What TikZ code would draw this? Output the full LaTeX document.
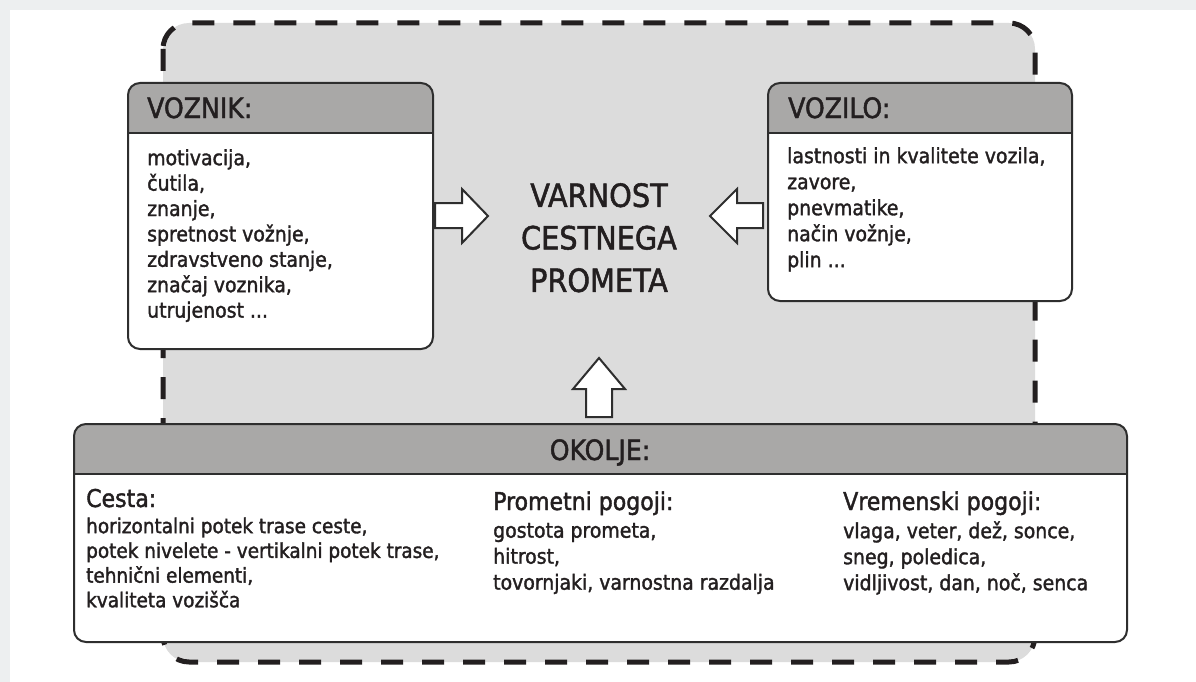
\documentclass[tikz,border=0pt]{standalone}
\usepackage{fontspec}
\setmainfont{DejaVu Sans Condensed}[FakeBold=1.6]
\definecolor{bggray}{HTML}{DCDCDC}
\definecolor{hdr}{HTML}{A9A8A7}
\definecolor{ln}{HTML}{2E2E2E}
\definecolor{txt}{HTML}{231F20}
\definecolor{strip}{HTML}{EDEFF0}
\newcommand{\fl}{\rule{0pt}{20pt}}
\begin{document}
\begin{tikzpicture}[x=1pt,y=-1pt,
  frame/.style={draw=txt, fill=bggray, line width=5pt, rounded corners=26pt, dash pattern=on 22pt off 19pt},
  infobox/.style={draw=ln, line width=2pt, fill=white, rounded corners=12pt, inner sep=0pt, anchor=north west,
    path picture={\fill[hdr, sharp corners] (path picture bounding box.north west) rectangle ([yshift=-50pt]path picture bounding box.north east);
      \draw[ln, line width=2pt, sharp corners] ([yshift=-50pt]path picture bounding box.north west) -- ([yshift=-50pt]path picture bounding box.north east);}},
  hdtext/.style={inner sep=0pt, text=txt, font=\fontsize{28}{32}\selectfont},
  subtext/.style={inner sep=0pt, anchor=base west, text=txt, font=\fontsize{24.5}{30}\selectfont},
  bodytext/.style={inner sep=0pt, anchor=north west, align=left, text=txt},
  blockarrow/.style={draw=ln, line width=2pt, fill=white, line join=miter}
]
\useasboundingbox (0,0) rectangle (1196,682);
\fill[white] (0,0) rectangle (1196,682);
\fill[strip] (0,0) rectangle (1196,10);
\fill[strip] (0,0) rectangle (10,682);

% dashed frame
\draw[frame] (163,23) rectangle (1035,662);

% boxes
\node[infobox, minimum width=305pt, minimum height=266pt] (voznik) at (127,82) {};
\node[infobox, minimum width=304pt, minimum height=218pt] (vozilo) at (767,82) {};
\node[infobox, minimum width=1053pt, minimum height=218pt] (okolje) at (73,423) {};

% headers
\node[hdtext, anchor=base west] (voznikH) at (147,118) {VOZNIK:};
\node[hdtext, anchor=base west] (voziloH) at (788,118) {VOZILO:};
\node[hdtext, anchor=base] (okoljeH) at (600,460) {OKOLJE:};

% body texts
\node[bodytext, font=\fontsize{21}{25.4}\selectfont] (voznikT) at (147,145) {\fl motivacija,\\ čutila,\\ znanje,\\ spretnost vožnje,\\ zdravstveno stanje,\\ značaj voznika,\\ utrujenost ...};
\node[bodytext, font=\fontsize{21}{26}\selectfont] (voziloT) at (787,143) {\fl lastnosti in kvalitete vozila,\\ zavore,\\ pnevmatike,\\ način vožnje,\\ plin ...};

% center
\node[inner sep=0pt, anchor=north, align=center, text=txt, font=\fontsize{32}{42.5}\selectfont] (varnost) at (599,176.7) {\rule{0pt}{30pt}VARNOST\\ CESTNEGA\\ PROMETA};

% block arrows
\draw[blockarrow] (435,203) -- (462,203) -- (462,189) -- (488,216) -- (462,243) -- (462,228) -- (435,228) -- cycle;
\draw[blockarrow] (763,203) -- (737,203) -- (737,189) -- (710,216) -- (737,243) -- (737,228) -- (763,228) -- cycle;
\draw[blockarrow] (586,417) -- (586,389) -- (573,389) -- (599,358) -- (625,389) -- (612,389) -- (612,417) -- cycle;

% okolje columns
\node[subtext] (cestaH) at (86,507) {Cesta:};
\node[bodytext, font=\fontsize{20.5}{24.7}\selectfont] (cestaT) at (86,513) {\fl horizontalni potek trase ceste,\\ potek nivelete - vertikalni potek trase,\\ tehnični elementi,\\ kvaliteta vozišča};
\node[subtext] (prometH) at (493,510) {Prometni pogoji:};
\node[bodytext, font=\fontsize{21}{26}\selectfont] (prometT) at (493,517.5) {\fl gostota prometa,\\ hitrost,\\ tovornjaki, varnostna razdalja};
\node[subtext] (vremeH) at (843,510) {Vremenski pogoji:};
\node[bodytext, font=\fontsize{21}{26}\selectfont] (vremeT) at (843,518) {\fl vlaga, veter, dež, sonce,\\ sneg, poledica,\\ vidljivost, dan, noč, senca};
\end{tikzpicture}
\end{document}
